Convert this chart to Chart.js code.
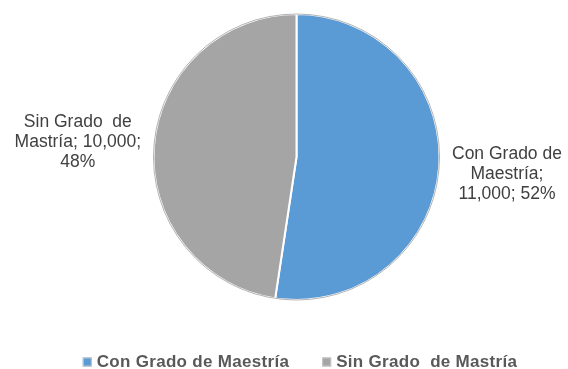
<!DOCTYPE html>
<html>
<head>
<meta charset="utf-8">
<script src="https://cdn.jsdelivr.net/npm/chart.js@4"></script>
<style>
  html, body { margin: 0; padding: 0; background: #ffffff; }
  #wrap { position: relative; width: 568px; height: 369px; }
</style>
</head>
<body>
<div id="wrap"><canvas id="c" width="568" height="369"></canvas></div>
<script>
// Categories and values
const categories = ['Con Grado de Maestría', 'Sin Grado  de Mastría'];
const values = [11000, 10000];
const colors = ['#5B9BD5', '#A5A5A5'];
// Name used in the data label of each slice
const labelNames = ['Con Grado de Maestría', 'Sin Grado  de Mastría'];
// Wrap width of each data label, in px
const labelWrap = [120, 135];

const LABEL_FONT = '17.5px "Liberation Sans", Arial, sans-serif';
const LEGEND_FONT = 'bold 17px "Liberation Sans", Arial, sans-serif';

function wrapText(ctx, text, maxW) {
  const words = text.split(' ');
  const lines = [];
  let cur = '';
  words.forEach((w, i) => {
    const test = i === 0 ? w : cur + ' ' + w;
    if (cur !== '' && w !== '' && ctx.measureText(test).width > maxW) {
      lines.push(cur);
      cur = w;
    } else {
      cur = test;
    }
  });
  if (cur) lines.push(cur);
  return lines;
}

// Data labels placed outside each slice
const outsideLabels = {
  id: 'outsideLabels',
  afterDatasetsDraw(chart) {
    const ctx = chart.ctx;
    const meta = chart.getDatasetMeta(0);
    const data = chart.data.datasets[0].data;
    const total = data.reduce((a, b) => a + b, 0);
    ctx.save();
    ctx.font = LABEL_FONT;
    ctx.fillStyle = '#404040';
    ctx.textAlign = 'center';
    ctx.textBaseline = 'middle';
    meta.data.forEach((arc, i) => {
      const v = data[i];
      const pct = Math.round(v / total * 100);
      const text = labelNames[i] + '; ' + v.toLocaleString('en-US') + '; ' + pct + '%';
      const lines = wrapText(ctx, text, labelWrap[i]);
      const w = Math.max(...lines.map(l => ctx.measureText(l).width));
      const lh = 20;
      const h = lines.length * lh;
      const mid = (arc.startAngle + arc.endAngle) / 2;
      const cx = Math.cos(mid), cy = Math.sin(mid);
      const gap = 11;
      const dist = arc.outerRadius + gap + Math.abs(cx) * w / 2 + Math.abs(cy) * h / 2;
      const x = arc.x + cx * dist;
      const y = arc.y + cy * dist + 1.5;
      lines.forEach((l, k) => {
        ctx.fillText(l, x, y - h / 2 + lh * (k + 0.5));
      });
    });
    // thin outline around the pie
    const a0 = meta.data[0];
    if (a0) {
      ctx.beginPath();
      ctx.arc(a0.x, a0.y, a0.outerRadius, 0, Math.PI * 2);
      ctx.strokeStyle = 'rgba(160,160,160,0.8)';
      ctx.lineWidth = 1;
      ctx.stroke();
    }
    ctx.restore();
  }
};

// Legend drawn below the pie
const bottomLegend = {
  id: 'bottomLegend',
  afterDraw(chart) {
    const ctx = chart.ctx;
    const labels = chart.data.labels;
    const bg = chart.data.datasets[0].backgroundColor;
    ctx.save();
    ctx.font = LEGEND_FONT;
    if ('letterSpacing' in ctx) ctx.letterSpacing = '0.3px';
    ctx.textBaseline = 'middle';
    ctx.textAlign = 'left';
    const box = 9, boxGap = 5, itemGap = 33;
    const widths = labels.map(l => ctx.measureText(l).width);
    const totalW = widths.reduce((s, w) => s + box + boxGap + w, 0) + itemGap * (labels.length - 1);
    let x = (chart.width - totalW) / 2 + 16;
    const y = 362;
    labels.forEach((l, i) => {
      ctx.fillStyle = bg[i];
      ctx.fillRect(x, y - box / 2, box, box);
      ctx.strokeStyle = '#c8c8c8';
      ctx.lineWidth = 1;
      ctx.strokeRect(x + 0.5, y - box / 2 + 0.5, box - 1, box - 1);
      ctx.fillStyle = '#595959';
      ctx.fillText(l, x + box + boxGap, y);
      x += box + boxGap + widths[i] + itemGap;
    });
    ctx.restore();
  }
};

new Chart(document.getElementById('c'), {
  type: 'pie',
  data: {
    labels: categories,
    datasets: [{
      data: values,
      backgroundColor: colors,
      borderColor: '#ffffff',
      borderWidth: 2
    }]
  },
  options: {
    responsive: false,
    animation: false,
    layout: { padding: { top: 13, bottom: 68, left: 152, right: 127 } },
    plugins: {
      legend: { display: false },
      tooltip: { enabled: false }
    }
  },
  plugins: [outsideLabels, bottomLegend]
});
</script>
</body>
</html>
